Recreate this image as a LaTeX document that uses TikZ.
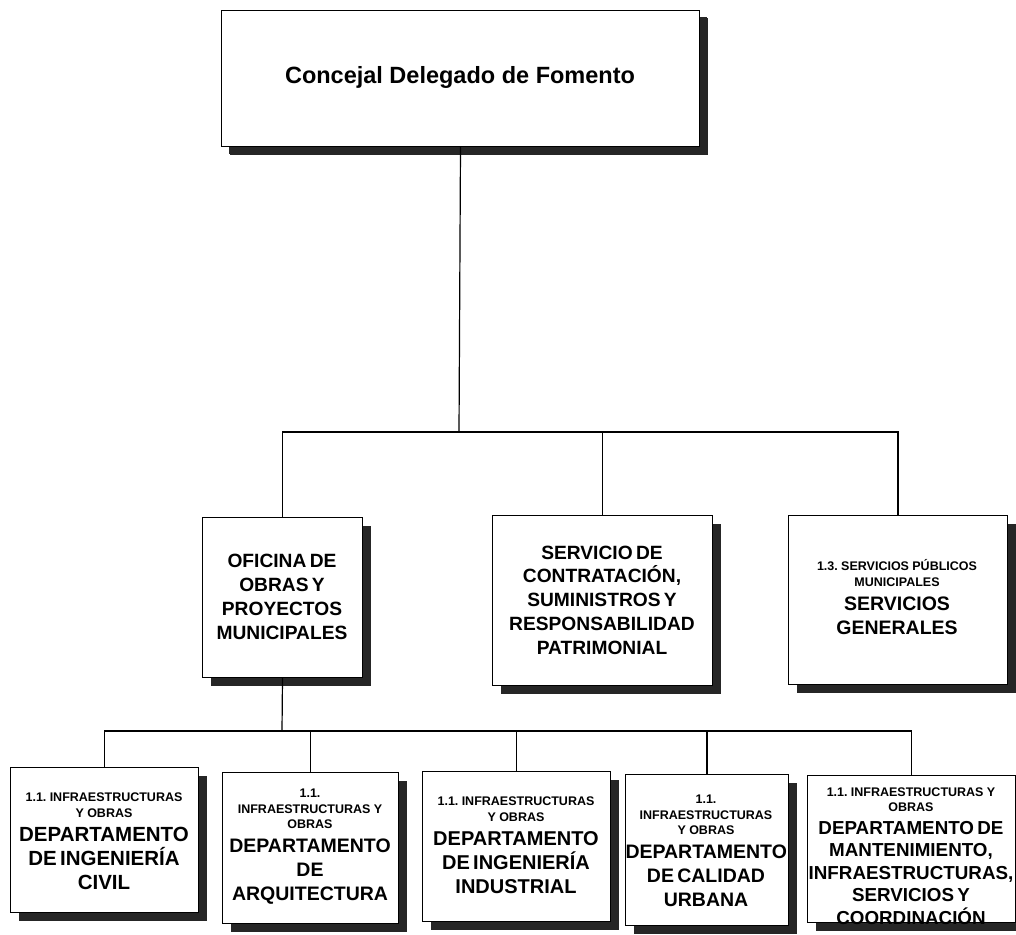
\documentclass[tikz,border=0pt]{standalone}
\usepackage{fontspec}
\usetikzlibrary{shadows}
\newfontfamily\af{Liberation Sans}
\frenchspacing
\newcommand{\topf}{\af\bfseries\fontsize{23.5}{27}\selectfont}
\newcommand{\midf}{\af\bfseries\fontsize{19.2}{23.8}\selectfont}
\newcommand{\smf}{\af\bfseries\fontsize{12.5}{15.5}\selectfont}
\newcommand{\bgf}{\af\bfseries\fontsize{19.5}{24}\selectfont}
\tikzset{
  box/.style={draw=black, line width=1pt, fill=white, inner sep=0pt, anchor=north west,
    drop shadow={shadow xshift=8pt, shadow yshift=-8pt, fill=black!85, opacity=1}},
  lbl/.style={align=center, inner sep=0pt, text width=#1, anchor=center},
  conn/.style={draw=black, line width=1.2pt}
}
\begin{document}
\begin{tikzpicture}[x=1pt,y=-1pt]
\useasboundingbox (0,0) rectangle (1016,934);
% boxes
\node[box, minimum width=478pt, minimum height=136pt,
  drop shadow={shadow xshift=7pt, shadow yshift=-7pt, fill=black!85, opacity=1}] (top) at (221,10) {};
\node[box, minimum width=160pt, minimum height=160pt] (ofi) at (202,517) {};
\node[box, minimum width=220pt, minimum height=170pt] (serv) at (492,515) {};
\node[box, minimum width=219pt, minimum height=169pt] (gen) at (788,515) {};
\node[box, minimum width=188pt, minimum height=145pt] (b1) at (10,767) {};
\node[box, minimum width=176pt, minimum height=151pt] (b2) at (222,772) {};
\node[box, minimum width=188pt, minimum height=150pt] (b3) at (422,771) {};
\node[box, minimum width=163pt, minimum height=151pt] (b4) at (625,774) {};
\node[box, minimum width=208pt, minimum height=147pt] (b5) at (807,775) {};
% junctions
\coordinate (j1) at (459,432);
\coordinate (j2) at (282,731);
% connectors
\draw[conn] (top.south) -- (j1);
\draw[conn] (ofi.north) |- (j1) -| (gen.north);
\draw[conn] (serv.north) -- (serv.north |- j1);
\draw[conn] (ofi.south) -- (j2);
\draw[conn] (b1.north) |- (j2) -| (b5.north);
\draw[conn] (b2.north) -- (b2.north |- j2);
\draw[conn] (b3.north) -- (b3.north |- j2);
\draw[conn] (b4.north) -- (b4.north |- j2);
% labels
\node[anchor=base] (ttop) at (460,83) {\topf Concejal Delegado de Fomento};
\node[lbl=158pt] (tofi) at (282,597) {\midf OFICINA DE\\ OBRAS Y\\ PROYECTOS\\ MUNICIPALES\par};
\node[lbl=218pt] (tserv) at (602,600) {\midf SERVICIO DE\\ CONTRATACIÓN,\\ SUMINISTROS Y\\ RESPONSABILIDAD\\ PATRIMONIAL\par};
\node[lbl=217pt] (tgen) at (897,597) {{\smf 1.3. SERVICIOS PÚBLICOS\\ MUNICIPALES\par}{\bgf SERVICIOS\\ GENERALES\par}};
\node[lbl=186pt] (tb1) at (104,841) {{\smf 1.1. INFRAESTRUCTURAS\\ Y OBRAS\par}{\bgf\fontsize{20.5}{24}\selectfont DEPARTAMENTO\\ DE INGENIERÍA\\ CIVIL\par}};
\node[lbl=174pt] (tb2) at (310,847) {{\smf 1.1.\\ INFRAESTRUCTURAS Y\\ OBRAS\par}{\bgf DEPARTAMENTO\\ DE\\ ARQUITECTURA\par}};
\node[lbl=186pt] (tb3) at (516,845) {{\smf 1.1. INFRAESTRUCTURAS\\ Y OBRAS\par}{\bgf\fontsize{20}{24}\selectfont DEPARTAMENTO\\ DE INGENIERÍA\\ INDUSTRIAL\par}};
\node[lbl=161pt] (tb4) at (706,851) {{\smf 1.1.\\ INFRAESTRUCTURAS\\ Y OBRAS\par}{\bgf DEPARTAMENTO\\ DE CALIDAD\\ URBANA\par}};
\node[lbl=208pt] (tb5) at (911,856) {{\smf 1.1. INFRAESTRUCTURAS Y\\ OBRAS\par}{\bgf\fontsize{18.8}{22.5}\selectfont DEPARTAMENTO DE\\ MANTENIMIENTO,\\ INFRAESTRUCTURAS,\\ SERVICIOS Y\\ COORDINACIÓN\par}};
\end{tikzpicture}
\end{document}
